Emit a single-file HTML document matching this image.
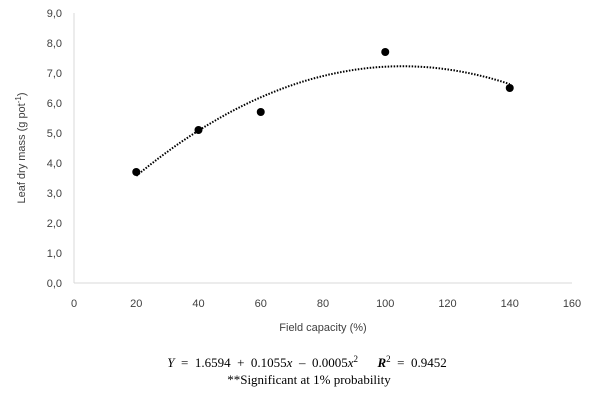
<!DOCTYPE html>
<html><head><meta charset="utf-8"><style>
body{margin:0;background:#fff;width:600px;height:402px;overflow:hidden}
svg{display:block}
text{font-family:"Liberation Sans",sans-serif;fill:#404040;font-size:11px}
.f{font-family:"Liberation Serif",serif;fill:#000;font-size:13px;white-space:pre}
</style></head><body>
<svg id="c" width="600" height="402"></svg>
<script>
const xVals=[20,40,60,100,140];
const yVals=[3.7,5.1,5.7,7.7,6.5];
const coefs=[1.6594,0.1055,-0.0005];
const xTicks=[0,20,40,60,80,100,120,140,160];
const yTicks=[0,1,2,3,4,5,6,7,8,9];
const X0=74,X1=572,Y0=283,Y1=13;
const sx=v=>X0+(v-0)/160*(X1-X0);
const sy=v=>Y0-(v/9)*(Y0-Y1);
const svg=document.getElementById('c');
const NS='http://www.w3.org/2000/svg';
function mk(t,a,txt){const e=document.createElementNS(NS,t);for(const k in a)e.setAttribute(k,a[k]);if(txt!=null)e.textContent=txt;svg.appendChild(e);return e;}
let e;
e=mk('line',{x1:X0,y1:Y1,x2:X0,y2:Y0,stroke:'#d9d9d9','stroke-width':1});


e=mk('line',{x1:X0,y1:Y0,x2:X1,y2:Y0,stroke:'#d9d9d9','stroke-width':1});


yTicks.forEach(v=>{e=mk('text',{x:62,y:sy(v)+4,'text-anchor':'end'},v.toFixed(1).replace('.',','));

});
xTicks.forEach(v=>{e=mk('text',{x:sx(v),y:307,'text-anchor':'middle'},String(v));

});
let d='';
for(let x=xVals[0];x<=xVals[xVals.length-1];x+=1){const y=coefs[0]+coefs[1]*x+coefs[2]*x*x;d+=(d?'L':'M')+sx(x).toFixed(1)+','+sy(y).toFixed(1);}
e=mk('path',{d:d,fill:'none',stroke:'#000','stroke-width':2,'stroke-dasharray':'1.5 1.5'});


xVals.forEach((x,i)=>{e=mk('circle',{cx:sx(x),cy:sy(yVals[i]),r:4,fill:'#000'});

});
e=mk('text',{x:25,y:148,'text-anchor':'middle',transform:'rotate(-90 25 148)','font-size':'12'},'');
e.innerHTML='Leaf dry mass (g pot<tspan dy="-4" font-size="8">-1</tspan><tspan dy="4">)</tspan>';


e=mk('text',{x:323,y:331,'text-anchor':'middle','font-size':'12'},'Field capacity (%)');


e=mk('text',{x:307,y:367,'text-anchor':'middle',class:'f','font-size':'14'},'');
e.innerHTML='<tspan font-style="italic">Y</tspan>  =  1.6594  +  0.1055<tspan font-style="italic">x</tspan>  –  0.0005<tspan font-style="italic">x</tspan><tspan dy="-5" font-size="9">2</tspan><tspan dy="5">      </tspan><tspan font-style="italic" font-weight="bold">R</tspan><tspan dy="-5" font-size="9">2</tspan><tspan dy="5">  =  0.9452</tspan>';


e=mk('text',{x:309,y:384,'text-anchor':'middle',class:'f'},'**Significant at 1% probability');


</script>
</body></html>
